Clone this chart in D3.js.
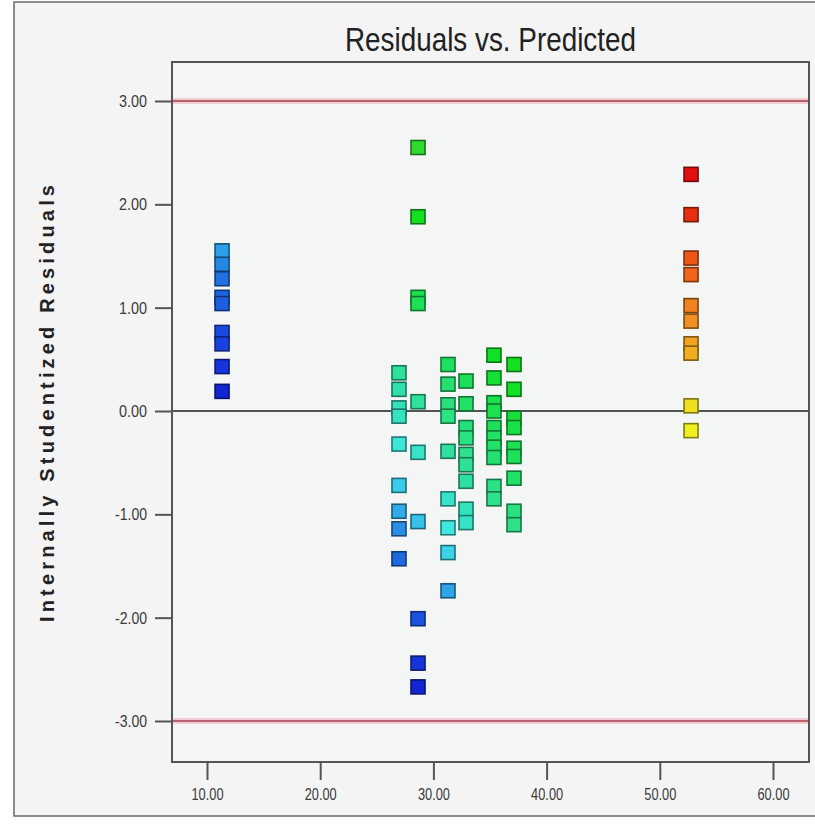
<!DOCTYPE html>
<html><head><meta charset="utf-8">
<script src="https://cdn.jsdelivr.net/npm/d3@7"></script>
<style>
html,body{margin:0;padding:0;background:#fff;}
svg{display:block;}
</style></head>
<body>
<svg id="chart" width="815" height="824"></svg>
<script>
// ---- data ----
const title = "Residuals vs. Predicted";
const yLabel = "Internally Studentized Residuals";
const xTicks = [10, 20, 30, 40, 50, 60];
const yTicks = [-3, -2, -1, 0, 1, 2, 3];
const limits = [-3, 3];
const predicted = [11.33, 26.96, 28.64, 31.29, 32.88, 35.35, 37.12, 52.76];
const residuals = [
  [1.55, 1.42, 1.28, 1.10, 1.04, 0.76, 0.65, 0.43, 0.19],
  [0.37, 0.21, 0.03, -0.05, -0.32, -0.72, -0.97, -1.14, -1.43],
  [2.55, 1.88, 1.10, 1.04, 0.09, -0.40, -1.07, -2.01, -2.44, -2.67],
  [0.45, 0.26, 0.06, -0.05, -0.39, -0.85, -1.13, -1.37, -1.74],
  [0.29, 0.07, -0.16, -0.26, -0.42, -0.52, -0.68, -0.95, -1.08],
  [0.54, 0.32, 0.08, 0.00, -0.16, -0.26, -0.35, -0.45, -0.73, -0.85],
  [0.45, 0.21, -0.07, -0.16, -0.36, -0.44, -0.65, -0.97, -1.10],
  [2.29, 1.90, 1.48, 1.32, 1.02, 0.87, 0.65, 0.56, 0.05, -0.19]
];
// colour encodes the actual response (predicted + scaled residual)
const colorStops = [12, 15, 19, 21, 24, 28, 30, 34, 39, 44, 51.6, 53, 56.4, 58.5, 61, 64, 66.5];
const colorValues = ["#1020d0","#1840e0","#2070e0","#30a8e8","#40e8e8","#30e0b0","#30e090","#20e060","#10e020","#30d830","#f0f020","#f0e020","#f0a820","#f08820","#f06018","#e83010","#e01010"];

// ---- layout ----
const svg = d3.select("#chart");
const W = 815, H = 824;
const plot = {left: 172, right: 809, top: 62, bottom: 762};
const x = d3.scaleLinear().domain([10, 60]).range([207, 773]);
const y = d3.scaleLinear().domain([-3, 3]).range([721, 101]);
const color = d3.scaleLinear().domain(colorStops).range(colorValues).clamp(true);
const narrow = "'Liberation Sans Narrow','Arial Narrow','Liberation Sans',Arial,sans-serif";
const fmt = d => d3.format(".2f")(d).replace("\u2212", "-");

// background & outer frame
svg.append("rect").attr("x",0).attr("y",0).attr("width",W).attr("height",H).attr("fill","#ffffff");
svg.append("rect").attr("x",14).attr("y",2).attr("width",W).attr("height",814)
  .attr("fill","#f4f4f4").attr("stroke","#6a6a6a").attr("stroke-width",1.5);

// plot area
svg.append("rect").attr("x",plot.left).attr("y",plot.top)
  .attr("width",plot.right-plot.left).attr("height",plot.bottom-plot.top)
  .attr("fill","#f4f5f5");

// title
svg.append("text").attr("x",(plot.left+plot.right)/2).attr("y",51)
  .attr("text-anchor","middle").attr("font-family",narrow).attr("font-size",34)
  .attr("fill","#222").attr("textLength",291).attr("lengthAdjust","spacingAndGlyphs")
  .text(title);

// y label
svg.append("text").attr("transform",`translate(54,${(185+622)/2}) rotate(-90)`)
  .attr("text-anchor","middle").attr("font-family","'Liberation Sans',Arial,sans-serif")
  .attr("font-weight","bold").attr("font-size",20).attr("fill","#222")
  .attr("textLength",437).attr("lengthAdjust","spacing")
  .text(yLabel);

// limit lines
limits.forEach(v => {
  svg.append("line").attr("x1",plot.left).attr("x2",plot.right).attr("y1",y(v)).attr("y2",y(v))
    .attr("stroke","#f3cdd4").attr("stroke-width",6);
  svg.append("line").attr("x1",plot.left).attr("x2",plot.right).attr("y1",y(v)).attr("y2",y(v))
    .attr("stroke","#b8606c").attr("stroke-width",1.8);
});
// zero line
svg.append("line").attr("x1",plot.left).attr("x2",plot.right).attr("y1",y(0)).attr("y2",y(0))
  .attr("stroke","#1e1e1e").attr("stroke-width",1.6);

// points
const points = [];
predicted.forEach((p, i) => residuals[i].forEach(r => points.push({p, r, v: p + 6 * r})));
const s = 14;
svg.append("g").selectAll("rect").data(points).join("rect")
  .attr("x", d => x(d.p) - s/2).attr("y", d => y(d.r) - s/2)
  .attr("width", s).attr("height", s)
  .attr("fill", d => color(d.v))
  .attr("stroke", d => d3.color(color(d.v)).darker(1.8))
  .attr("stroke-width", 1.6);

// plot border
svg.append("rect").attr("x",plot.left).attr("y",plot.top)
  .attr("width",plot.right-plot.left).attr("height",plot.bottom-plot.top)
  .attr("fill","none").attr("stroke","#555").attr("stroke-width",2);

// x axis
const xAxis = d3.axisBottom(x).tickValues(xTicks).tickSize(18).tickPadding(8).tickFormat(fmt);
const gx = svg.append("g").attr("transform",`translate(0,${plot.bottom})`).call(xAxis);
gx.select(".domain").remove();
gx.selectAll(".tick line").attr("stroke","#555").attr("stroke-width",2);
gx.selectAll(".tick text").attr("font-family",narrow).attr("font-size",17).attr("fill","#3a3a3a")
  .attr("textLength",32).attr("lengthAdjust","spacingAndGlyphs");

// y axis
const yAxis = d3.axisLeft(y).tickValues(yTicks).tickSize(17).tickPadding(8).tickFormat(fmt);
const gy = svg.append("g").attr("transform",`translate(${plot.left},0)`).call(yAxis);
gy.select(".domain").remove();
gy.selectAll(".tick line").attr("stroke","#555").attr("stroke-width",2);
gy.selectAll(".tick text").attr("font-family",narrow).attr("font-size",17).attr("fill","#3a3a3a")
  .attr("textLength", d => d < 0 ? 32 : 28).attr("lengthAdjust","spacingAndGlyphs");
</script>
</body></html>
